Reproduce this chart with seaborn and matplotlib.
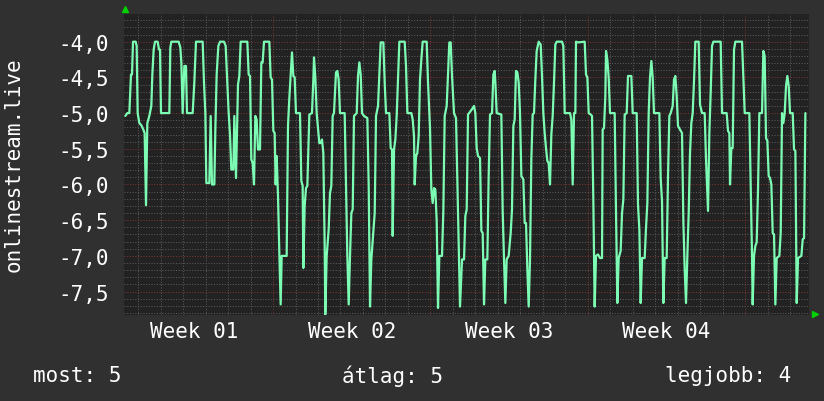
import matplotlib
matplotlib.use("Agg")
import matplotlib.pyplot as plt
from matplotlib.lines import Line2D
import seaborn as sns
import pandas as pd

# ---- data (days since start of Week 01, value) ----
days = [
    0.428, 0.517, 0.606, 0.680, 0.725, 0.770, 0.888, 0.933, 0.977, 1.051, 1.140, 1.229, 1.288, 1.348,
    1.407, 1.496, 1.585, 1.630, 1.689, 1.748, 1.867, 1.926, 1.971, 2.015, 2.386, 2.430, 2.475, 2.801,
    2.875, 2.920, 2.979, 3.053, 3.127, 3.172, 3.424, 3.498, 3.572, 3.869, 3.928, 3.988, 4.032, 4.166,
    4.225, 4.284, 4.388, 4.433, 4.492, 4.566, 4.640, 4.818, 4.892, 4.951, 5.026, 5.085, 5.144, 5.233,
    5.278, 5.352, 5.441, 5.500, 5.560, 5.856, 5.915, 5.975, 6.034, 6.093, 6.153, 6.212, 6.271, 6.331,
    6.420, 6.479, 6.538, 6.598, 6.835, 6.894, 6.954, 7.013, 7.072, 7.117, 7.161, 7.221, 7.280, 7.339,
    7.384, 7.606, 7.665, 7.725, 7.784, 7.843, 7.903, 7.962, 8.021, 8.199, 8.259, 8.318, 8.348, 8.407,
    8.466, 8.526, 8.615, 8.733, 8.793, 8.822, 8.882, 8.941, 9.059, 9.119, 9.178, 9.237, 9.297, 9.326,
    9.386, 9.475, 9.534, 9.593, 9.653, 9.712, 9.801, 9.860, 9.919, 9.979, 10.187, 10.246, 10.305,
    10.366, 10.425, 10.484, 10.544, 10.603, 10.722, 10.781, 10.840, 10.900, 10.959, 11.048, 11.196,
    11.256, 11.315, 11.374, 11.463, 11.523, 11.582, 11.671, 11.730, 11.789, 11.908, 11.967, 12.027,
    12.175, 12.234, 12.294, 12.323, 12.383, 12.442, 12.501, 12.561, 12.620, 12.857, 12.916, 12.976,
    13.154, 13.213, 13.272, 13.302, 13.361, 13.420, 13.480, 13.539, 13.598, 13.658, 13.836, 13.895,
    13.984, 14.043, 14.103, 14.162, 14.221, 14.281, 14.340, 14.399, 14.518, 14.577, 14.637, 14.726,
    14.785, 14.844, 14.904, 14.963, 15.052, 15.141, 15.230, 15.319, 15.408, 15.497, 15.556, 15.616,
    15.675, 15.794, 15.883, 15.942, 16.001, 16.061, 16.120, 16.209, 16.268, 16.328, 16.387, 16.446,
    16.535, 16.594, 16.654, 16.743, 16.802, 16.861, 16.891, 16.950, 17.158, 17.217, 17.277, 17.336,
    17.395, 17.484, 17.573, 17.632, 17.692, 17.751, 17.810, 17.870, 17.929, 17.988, 18.048, 18.137,
    18.196, 18.255, 18.315, 18.374, 18.433, 18.492, 18.552, 18.611, 18.670, 18.730, 18.819, 18.908,
    18.967, 19.026, 19.086, 19.145, 19.204, 19.264, 19.323, 19.382, 19.442, 19.501, 19.560, 19.620,
    19.857, 19.916, 19.976, 20.213, 20.272, 20.332, 20.391, 20.450, 20.480, 20.569, 20.866, 20.925,
    20.985, 21.044, 21.133, 21.192, 21.251, 21.310, 21.370, 21.459, 21.548, 21.637, 21.666, 21.726,
    21.785, 21.815, 21.874, 21.933, 21.993, 22.200, 22.260, 22.319, 22.378, 22.467, 22.527, 22.586,
    22.645, 22.734, 22.794, 22.942, 23.001, 23.179, 23.238, 23.298, 23.357, 23.416, 23.535, 23.594,
    23.654, 23.713, 23.772, 23.832, 23.891, 23.950, 24.188, 24.247, 24.306, 24.366, 24.425, 24.514,
    24.573, 24.632, 24.692, 24.781, 24.840, 24.899, 24.959, 25.018, 25.107, 25.196, 25.256, 25.315,
    25.374, 25.433, 25.493, 25.552, 25.611, 25.671, 25.730, 25.789, 25.938, 25.997, 26.086, 26.205,
    26.264, 26.353, 26.412, 26.472, 26.531, 26.590, 26.916, 26.976, 27.183, 27.243, 27.302, 27.332,
    27.391, 27.450, 27.510, 27.569, 27.866, 27.925, 27.985, 28.192, 28.251, 28.311, 28.340, 28.400,
    28.459, 28.518, 28.578, 28.637, 28.756, 28.815, 28.874, 28.934, 28.993, 29.052, 29.112, 29.171,
    29.231, 29.290, 29.349, 29.409, 29.527, 29.587, 29.646, 29.705, 29.765, 29.824, 29.883, 29.943,
    30.002, 30.121, 30.180, 30.240, 30.299, 30.358, 30.507, 30.566, 30.626, 30.685,
]
values = [
    -5.04, -5.00, -5.00, -4.46, -4.46, -4.00, -4.00, -4.06, -5.00, -5.14, -5.17, -5.23, -5.28, -6.29,
    -5.14, -5.04, -4.90, -4.46, -4.11, -4.00, -4.00, -4.11, -4.11, -5.00, -5.00, -4.08, -4.00, -4.00,
    -4.08, -4.29, -5.00, -4.34, -4.34, -5.00, -5.00, -4.57, -4.00, -4.00, -4.57, -5.00, -5.98, -5.98,
    -5.04, -6.00, -6.00, -5.23, -4.46, -4.06, -4.00, -4.00, -4.06, -4.46, -5.00, -5.30, -5.79, -5.79,
    -5.04, -5.91, -4.60, -4.48, -4.00, -4.00, -4.46, -4.48, -5.65, -5.70, -6.00, -5.04, -5.09, -5.51,
    -5.51, -4.29, -4.29, -4.00, -4.00, -4.50, -4.53, -5.25, -5.28, -6.00, -5.60, -6.16, -6.96, -7.68,
    -7.00, -7.00, -5.18, -4.79, -4.48, -4.15, -4.48, -4.50, -5.00, -5.00, -5.95, -6.02, -7.17, -6.30,
    -6.05, -6.02, -5.02, -5.00, -4.53, -4.22, -4.50, -5.00, -5.42, -5.42, -5.37, -5.56, -6.86, -7.82,
    -7.00, -6.63, -6.12, -6.02, -5.04, -5.00, -4.43, -4.41, -4.53, -5.00, -5.00, -6.00, -7.00,
    -7.68, -7.00, -6.40, -6.35, -5.04, -5.00, -4.48, -4.29, -4.46, -5.00, -5.04, -5.07,
    -6.02, -7.71, -7.05, -6.65, -6.40, -5.04, -4.90, -4.46, -4.01, -4.01, -4.57, -5.00,
    -5.00, -5.49, -5.51, -6.72, -5.51, -5.37, -5.04, -4.53, -4.00, -4.00, -4.34, -5.00,
    -5.00, -5.09, -5.32, -6.00, -5.60, -5.56, -5.32, -4.53, -4.25, -4.00, -4.00, -4.57,
    -5.21, -6.07, -6.26, -6.05, -6.07, -6.51, -7.73, -7.00, -7.00, -6.37, -5.04, -4.90,
    -4.46, -4.01, -4.01, -4.48, -5.00, -5.07, -6.40, -7.71, -7.05, -7.05, -6.44, -6.35,
    -5.02, -4.97, -4.93, -4.90, -5.00, -5.49, -5.60, -5.63, -6.65, -6.68, -7.68, -7.05,
    -7.05, -5.88, -5.02, -5.00, -4.46, -4.41, -4.57, -5.00, -5.02, -6.37, -7.05, -7.66,
    -7.05, -7.00, -6.68, -6.35, -5.18, -5.09, -4.41, -4.43, -4.57, -5.00, -5.88, -5.93,
    -6.54, -6.54, -7.19, -7.71, -7.05, -5.65, -5.02, -5.00, -4.53, -4.13, -4.00, -4.04,
    -4.48, -5.00, -5.28, -5.49, -5.67, -5.70, -6.00, -5.30, -5.04, -4.57, -4.04, -4.00,
    -4.00, -4.06, -5.00, -5.00, -5.09, -6.00, -5.00, -5.00, -4.00, -4.01, -4.00, -4.46,
    -4.50, -5.00, -5.02, -5.04, -6.23, -7.71, -7.00, -6.98, -7.03, -7.03, -5.23, -5.21,
    -4.76, -4.13, -4.25, -4.50, -5.00, -5.00, -6.40, -7.66, -7.03, -6.93, -6.40, -6.21,
    -5.02, -5.00, -4.48, -4.48, -5.00, -5.00, -6.28, -6.63, -7.66, -7.03, -7.03, -6.61,
    -6.26, -5.00, -4.50, -4.27, -4.50, -5.00, -5.00, -5.91, -6.23, -7.66, -7.03, -7.03,
    -5.88, -5.04, -5.00, -4.90, -4.53, -4.48, -4.76, -5.18, -5.23, -5.28, -6.51, -7.19,
    -7.66, -7.00, -6.40, -5.56, -5.14, -5.00, -4.55, -4.00, -4.00, -4.88, -5.00, -5.00,
    -5.65, -6.37, -5.28, -4.71, -4.06, -4.00, -4.00, -5.00, -5.00, -5.25, -5.28, -6.00,
    -5.49, -5.49, -4.11, -4.00, -4.00, -4.50, -5.00, -5.00, -6.02, -7.00, -7.68, -7.00,
    -6.86, -6.81, -6.07, -5.00, -5.00, -4.13, -4.20, -5.35, -5.39, -5.88, -5.91, -6.00,
    -6.68, -6.70, -7.68, -7.03, -7.00, -6.68, -5.00, -5.14, -5.00, -4.62, -4.48, -4.62,
    -5.00, -5.00, -5.51, -5.53, -7.66, -7.03, -7.00, -6.77, -6.75, -5.00,
]
y_ticks = [-4.0, -4.5, -5.0, -5.5, -6.0, -6.5, -7.0, -7.5]
week_labels = ["Week 01", "Week 02", "Week 03", "Week 04"]
week_centers = [3.5, 10.5, 17.5, 24.5]
week_starts = [7, 14, 21, 28]
y_label = "onlinestream.live"
legend_texts = ["most: 5", "átlag: 5", "legjobb: 4"]

# ---- style ----
sns.set_style("dark")
plt.rcParams["font.family"] = ["DejaVu Sans Mono", "DejaVu Sans"]
OUTER = "#303030"
INNER = "#222222"
LINE = "#7dfcb4"
MINOR = "#595959"
MAJOR = "#7a3434"
TXT = "#ffffff"

fig = plt.figure(figsize=(8.24, 4.02), dpi=100, facecolor=OUTER)
ax = fig.add_axes([124 / 824, 1 - 316 / 402, (809 - 124) / 824, (316 - 15) / 402])
ax.set_facecolor(INNER)

xmin, xmax = 0.369, 30.846
ymin, ymax = -7.828, -3.612

# grid
dot = (0, (1, 1.6))
for d in range(1, 31):
    if d in week_starts:
        continue
    ax.axvline(d, color=MINOR, lw=0.75, ls=dot, zorder=1)
for d in week_starts:
    ax.axvline(d, color=MAJOR, lw=0.75, ls=dot, zorder=1)
for i in range(-78, -36):
    v = i / 10
    if i % 5 == 0:
        continue
    ax.axhline(v, color=MINOR, lw=0.75, ls=dot, zorder=1)
for v in y_ticks:
    ax.axhline(v, color=MAJOR, lw=0.75, ls=dot, zorder=1)

df = pd.DataFrame({"day": days, "value": values})
sns.lineplot(data=df, x="day", y="value", ax=ax, color=LINE, lw=1.6,
             sort=False, estimator=None, zorder=3)

ax.set_xlim(xmin, xmax)
ax.set_ylim(ymin, ymax)
ax.set_yticks(y_ticks)
ax.set_yticklabels([f"{v:.1f}".replace(".", ",") for v in y_ticks], color=TXT, fontsize=15)
ax.set_xticks(week_centers)
ax.set_xticklabels(week_labels, color=TXT, fontsize=15)
ax.tick_params(axis="y", length=0, pad=11)
ax.tick_params(axis="x", length=0, pad=4)
ax.set_xlabel("")
ax.set_ylabel("")
ax.grid(False)
for s in ax.spines.values():
    s.set_visible(False)

fig.text(14 / 824, 1 - 165 / 402, y_label, rotation=90, ha="center", va="center",
         color=TXT, fontsize=15)

fig.text(33 / 824, 1 - 376 / 402, legend_texts[0], ha="left", va="center", color=TXT, fontsize=15)
fig.text(392 / 824, 1 - 376 / 402, legend_texts[1], ha="center", va="center", color=TXT, fontsize=15)
fig.text(791 / 824, 1 - 376 / 402, legend_texts[2], ha="right", va="center", color=TXT, fontsize=15)

# axis arrows
fig.add_artist(Line2D([125 / 824], [1 - 10 / 402], marker="^", markersize=4,
                      color="#00d000", transform=fig.transFigure, lw=0))
fig.add_artist(Line2D([815 / 824], [1 - 315 / 402], marker=">", markersize=4,
                      color="#00d000", transform=fig.transFigure, lw=0))

fig.savefig("out.png", dpi=100, facecolor=OUTER)
